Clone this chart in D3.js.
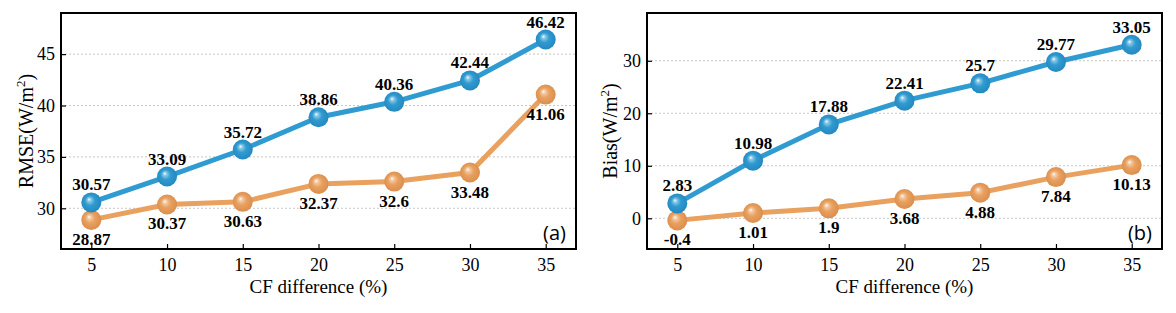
<!DOCTYPE html>
<html><head><meta charset="utf-8">
<script src="https://cdn.jsdelivr.net/npm/d3@7"></script>
<style>body{margin:0;background:#fff}</style>
</head><body>
<svg id="c" width="1176" height="313"></svg>
<script>
const cfDiff = [5, 10, 15, 20, 25, 30, 35];
const rmseBlue = [30.57, 33.09, 35.72, 38.86, 40.36, 42.44, 46.42];
const rmseOrange = [28.87, 30.37, 30.63, 32.37, 32.6, 33.48, 41.06];
const biasBlue = [2.83, 10.98, 17.88, 22.41, 25.7, 29.77, 33.05];
const biasOrange = [-0.4, 1.01, 1.9, 3.68, 4.88, 7.84, 10.13];
const rmseTicks = [30, 35, 40, 45];
const biasTicks = [0, 10, 20, 30];
const xTicks = [5, 10, 15, 20, 25, 30, 35];

const SERIF = "Liberation Serif, Times New Roman, serif";
const svg = d3.select("#c");
const defs = svg.append("defs");
function grad(id, base, dark) {
  const g = defs.append("radialGradient").attr("id", id)
    .attr("cx", "50%").attr("cy", "50%").attr("r", "55%")
    .attr("fx", "38%").attr("fy", "34%");
  g.append("stop").attr("offset", "0%").attr("stop-color", "#ffffff");
  g.append("stop").attr("offset", "16%").attr("stop-color", d3.interpolateRgb("#ffffff", base)(0.55));
  g.append("stop").attr("offset", "45%").attr("stop-color", base);
  g.append("stop").attr("offset", "100%").attr("stop-color", dark);
}
const BLUE = "#2f9bd1", ORANGE = "#e9a15f";
grad("gB", BLUE, "#2386bd");
grad("gO", ORANGE, "#d98b4c");

function panel(opt) {
  const {x0, x1, y0, y1, ydom, yticks, blue, orange, ytitle, tag, ytitleX} = opt;
  const g = svg.append("g");
  const x = d3.scaleLinear().domain([3, 37]).range([x0, x1]);
  const y = d3.scaleLinear().domain(ydom).range([y1, y0]);
  g.selectAll(".grid").data(yticks).enter().append("line")
    .attr("x1", x0).attr("x2", x1).attr("y1", d => y(d)).attr("y2", d => y(d))
    .attr("stroke", "#c8c8c8").attr("stroke-width", 1).attr("stroke-dasharray", "2,2");
  const ax = g.append("g").attr("transform", `translate(0,${y1})`)
    .call(d3.axisBottom(x).tickValues(xTicks).tickSize(-5).tickPadding(9).tickFormat(d3.format("d")));
  const ay = g.append("g").attr("transform", `translate(${x0},0)`)
    .call(d3.axisLeft(y).tickValues(yticks).tickSize(-5).tickPadding(6).tickFormat(d3.format("d")));
  [ax, ay].forEach(a => {
    a.select(".domain").remove();
    a.selectAll("text").attr("font-family", SERIF).attr("font-size", 18).attr("fill", "#000");
    a.selectAll("line").attr("stroke", "#000").attr("stroke-width", 1.2);
  });
  g.append("rect").attr("x", x0).attr("y", y0).attr("width", x1 - x0).attr("height", y1 - y0)
    .attr("fill", "none").attr("stroke", "#000").attr("stroke-width", 2);
  const line = d3.line().x((d, i) => x(cfDiff[i])).y(d => y(d));
  const series = [[orange, ORANGE, "gO", 25], [blue, BLUE, "gB", -12]];
  series.forEach(([vals, col]) => {
    g.append("path").datum(vals).attr("d", line).attr("fill", "none")
      .attr("stroke", col).attr("stroke-width", 5).attr("stroke-linejoin", "round");
  });
  series.forEach(([vals, col, gid, off]) => {
    g.selectAll(null).data(vals).enter().append("circle")
      .attr("cx", (d, i) => x(cfDiff[i])).attr("cy", d => y(d)).attr("r", 10)
      .attr("fill", `url(#${gid})`);
    g.selectAll(null).data(vals).enter().append("text")
      .attr("x", (d, i) => x(cfDiff[i])).attr("y", d => y(d) + off)
      .attr("text-anchor", "middle").attr("font-family", SERIF)
      .attr("font-weight", "bold").attr("font-size", 17).attr("fill", "#000")
      .text(d => d);
  });
  g.append("text").attr("x", (x0 + x1) / 2).attr("y", 293).attr("text-anchor", "middle")
    .attr("font-family", SERIF).attr("font-size", 19).text("CF difference (%)");
  const yt = g.append("text").attr("transform", `translate(${ytitleX},${(y0 + y1) / 2}) rotate(-90)`)
    .attr("text-anchor", "middle").attr("font-family", SERIF).attr("font-size", 20);
  yt.append("tspan").text(ytitle + "(W/m");
  yt.append("tspan").attr("font-size", 13).attr("dy", -8).text("2");
  yt.append("tspan").attr("dy", 8).text(")");
  g.append("text").attr("x", x1 - 10).attr("y", 240).attr("text-anchor", "end")
    .attr("font-family", "Open Sans, DejaVu Sans, sans-serif").attr("font-size", 20).text(tag);
}

panel({x0: 61, x1: 576, y0: 13, y1: 249, ydom: [26.04, 49.0], yticks: rmseTicks,
  blue: rmseBlue, orange: rmseOrange, ytitle: "RMSE", tag: "(a)", ytitleX: 33});
panel({x0: 647, x1: 1162, y0: 13, y1: 249, ydom: [-5.85, 39.1], yticks: biasTicks,
  blue: biasBlue, orange: biasOrange, ytitle: "Bias", tag: "(b)", ytitleX: 617});
</script>
</body></html>
